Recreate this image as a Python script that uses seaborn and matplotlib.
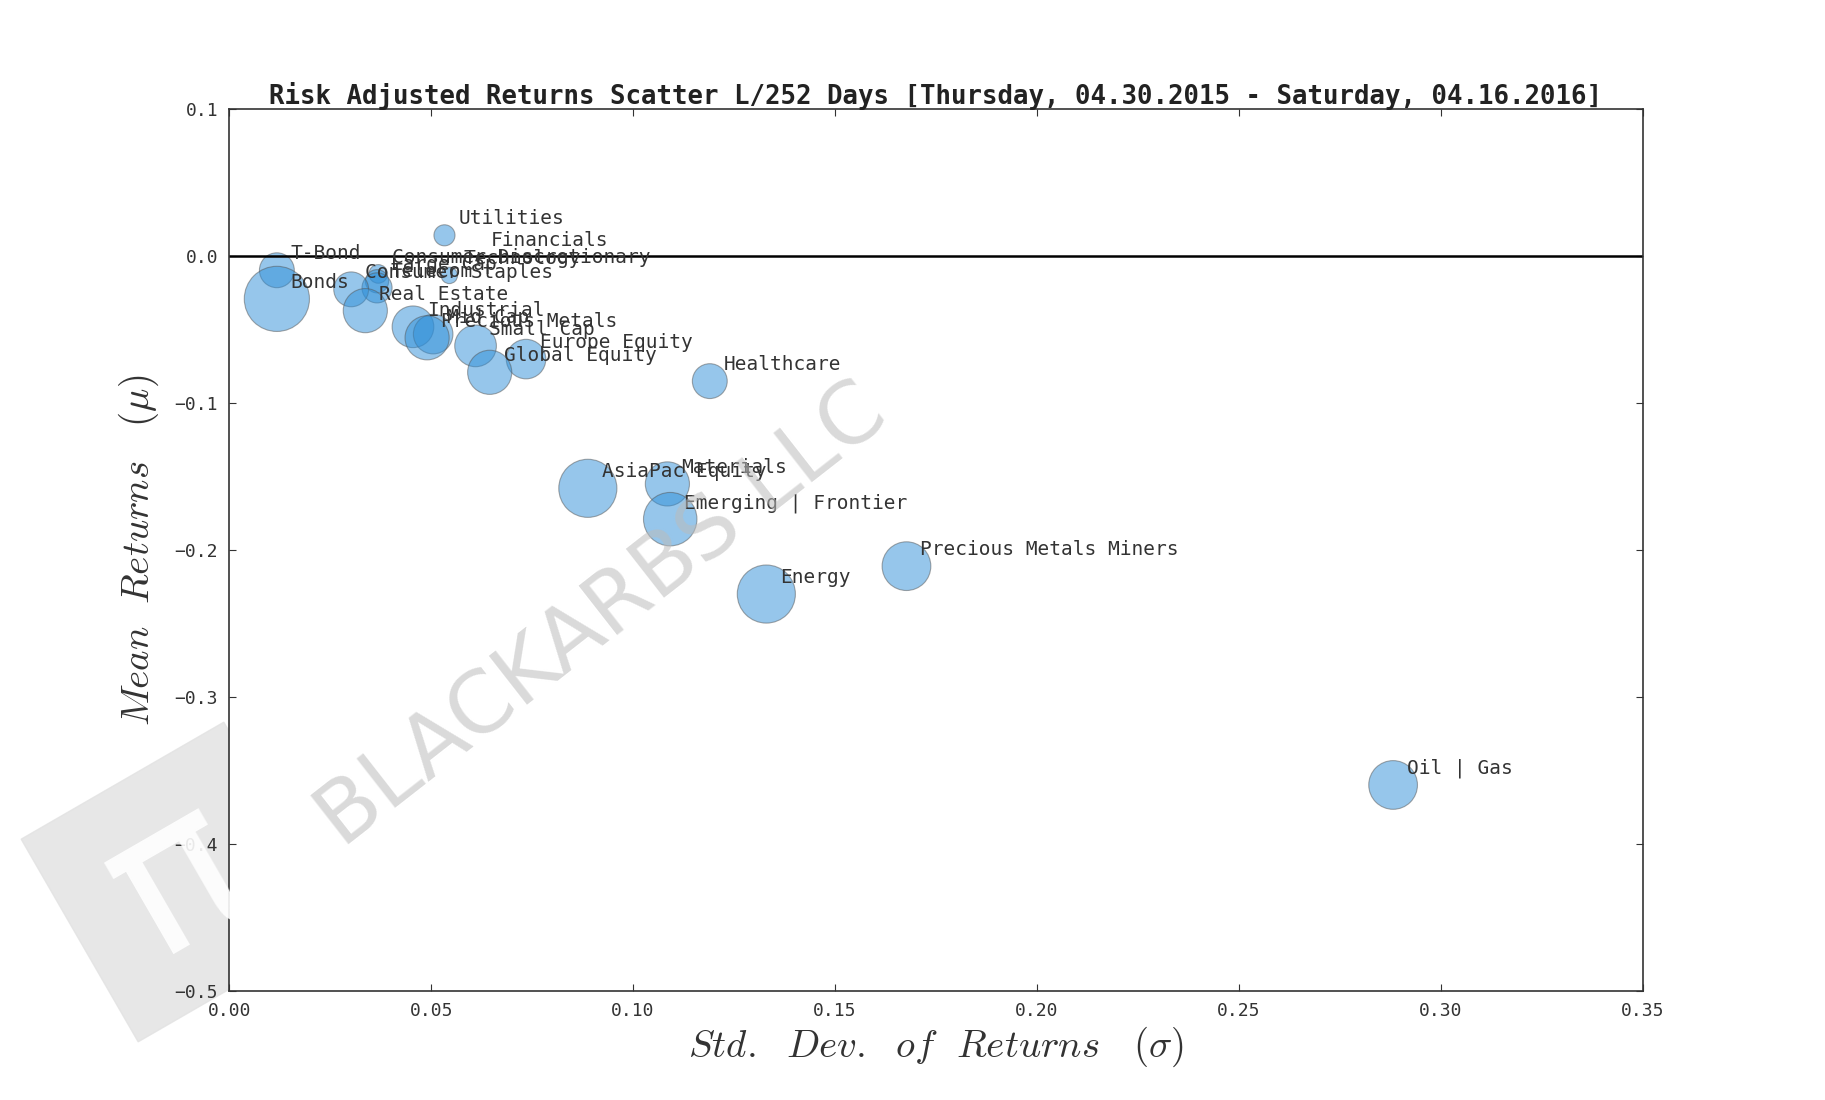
import matplotlib
matplotlib.use("Agg")
import matplotlib.pyplot as plt
import seaborn as sns
import pandas as pd
from matplotlib.patches import Rectangle
import matplotlib.transforms as mtrans

names = ["Utilities", "Financials", "T-Bond", "Consumer Discretionary", "Technology",
         "Large Cap", "Telecom", "Consumer Staples", "Bonds", "Real Estate",
         "Industrial", "Mid Cap", "Precious Metals", "Small Cap", "Europe Equity",
         "Global Equity", "Healthcare", "AsiaPac Equity", "Materials",
         "Emerging | Frontier", "Precious Metals Miners", "Energy", "Oil | Gas"]
std = [0.0533, 0.0614, 0.0118, 0.0369, 0.0545, 0.0366, 0.0366, 0.0302, 0.0118, 0.0337,
       0.0455, 0.0505, 0.0490, 0.0610, 0.0735, 0.0645, 0.1190, 0.0888, 0.1085,
       0.1092, 0.1677, 0.1330, 0.2882]
mean = [0.0143, -0.0008, -0.0095, -0.0120, -0.0130, -0.0170, -0.0215, -0.0225, -0.0290, -0.0370,
        -0.0480, -0.0530, -0.0555, -0.0610, -0.0700, -0.0790, -0.0850, -0.1580, -0.1550,
        -0.1790, -0.2110, -0.2300, -0.3600]
size = [230, 0, 630, 180, 140, 280, 470, 630, 2200, 1010,
        900, 810, 1010, 900, 810, 1010, 630, 1750, 1010,
        1480, 1230, 1750, 1230]

df = pd.DataFrame({"name": names, "std": std, "mean": mean, "size": size})

sns.set_style("white")
plt.rcParams["mathtext.fontset"] = "cm"
fig = plt.figure(figsize=(18.25, 11), dpi=100)
ax = fig.add_axes([0.1256, 0.0995, 0.7745, 0.801])

sns.scatterplot(data=df, x="std", y="mean", size="size", sizes=(0, 2200),
                size_norm=(0, 2200), legend=False, color="#2e8fd8", alpha=0.5,
                edgecolor="#555555", linewidth=0.8, ax=ax)
for n, x, y in zip(names, std, mean):
    ax.annotate(n, (x, y), xytext=(10, 8), textcoords="offset points",
                fontsize=14, family="DejaVu Sans Mono", color="#333333")

ax.axhline(0, color="black", lw=1.8)
ax.set_xlim(0, 0.35)
ax.set_ylim(-0.5, 0.1)
ax.set_xticks([0, 0.05, 0.1, 0.15, 0.2, 0.25, 0.3, 0.35])
ax.set_xticklabels(["0.00", "0.05", "0.10", "0.15", "0.20", "0.25", "0.30", "0.35"])
ax.set_yticks([0.1, 0.0, -0.1, -0.2, -0.3, -0.4, -0.5])
ax.set_yticklabels(["0.1", "0.0", "\u22120.1", "\u22120.2", "\u22120.3", "\u22120.4", "\u22120.5"])
ax.tick_params(axis="both", labelsize=13, direction="in", length=5, top=True, right=True,
               bottom=True, left=True, colors="#333333", pad=8)
for lab in ax.get_xticklabels() + ax.get_yticklabels():
    lab.set_family("DejaVu Sans Mono")
for sp in ax.spines.values():
    sp.set_color("#333333")
    sp.set_linewidth(1.2)

ax.set_xlabel(r"$Std.\ \ Dev.\ \ of\ \ Returns\quad(\sigma)$", fontsize=28, color="#333333")
ax.set_ylabel(r"$Mean\ \ Returns\quad(\mu)$", fontsize=28, color="#333333", labelpad=10)
ax.set_title("Risk Adjusted Returns Scatter L/252 Days [Thursday, 04.30.2015 - Saturday, 04.16.2016]",
             fontsize=18.5, fontweight="bold", family="DejaVu Sans Mono", color="#222222", pad=4)

# watermark
fig.text(0.33, 0.44, "BLACKARBS LLC", fontsize=62, color="#bbbbbb", alpha=0.55,
         rotation=38, ha="center", va="center", family="DejaVu Sans")
cx, cy, side = 181, 218, 234
tr = mtrans.Affine2D().rotate_deg_around(cx, cy, 30)
fig.patches.append(Rectangle((cx - side / 2, cy - side / 2), side, side, transform=tr,
                             color="#e3e3e3", alpha=0.85, zorder=-1))
fig.text(0.098, 0.2, "\u03c0", fontsize=150, color="white", alpha=0.9, rotation=30,
         ha="center", va="center")

fig.savefig("out.png", dpi=100)
